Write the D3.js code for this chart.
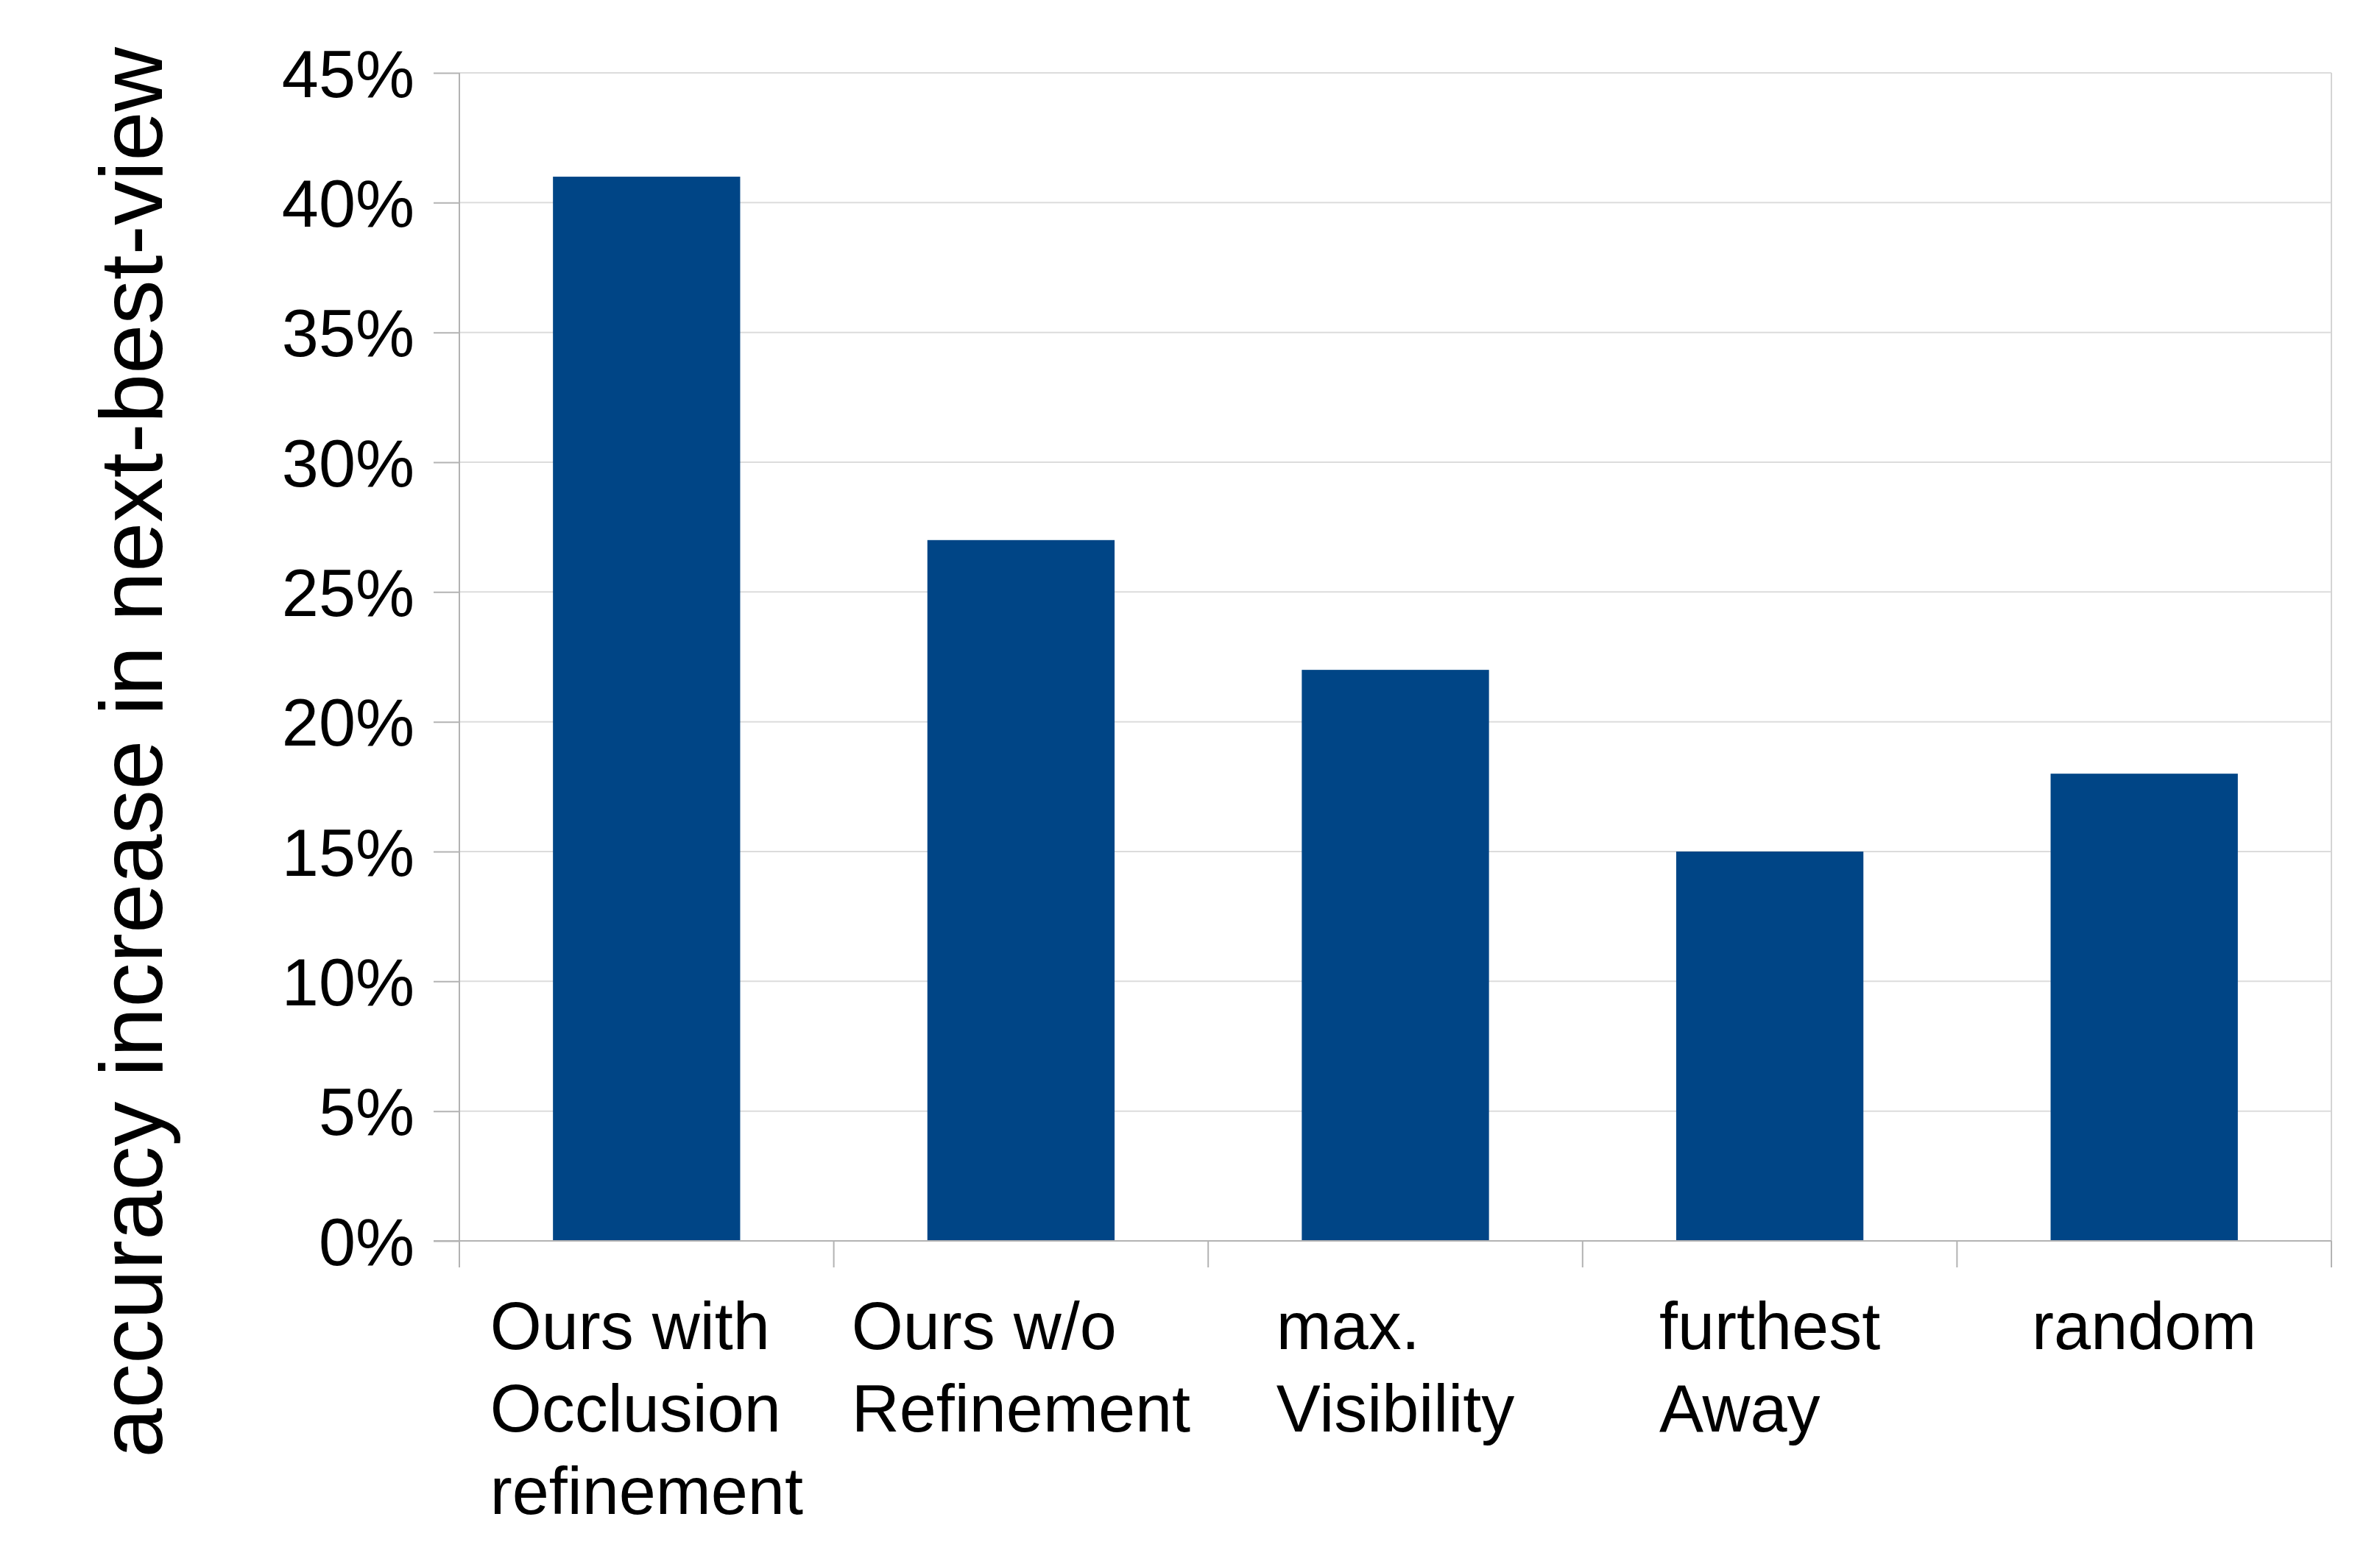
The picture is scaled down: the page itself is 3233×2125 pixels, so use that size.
<!DOCTYPE html>
<html>
<head>
<meta charset="utf-8">
<script src="https://cdn.jsdelivr.net/npm/d3@7"></script>
<style>
  html, body { margin: 0; padding: 0; background: #ffffff; }
  svg { display: block; }
  text { font-family: "Liberation Sans", Arial, sans-serif; fill: #000000; }
</style>
</head>
<body>
<svg id="chart" width="3233" height="2125"></svg>
<script>
// ---- data ----
const categories = [
  ["Ours with", "Occlusion", "refinement"],
  ["Ours w/o", "Refinement"],
  ["max.", "Visibility"],
  ["furthest", "Away"],
  ["random"]
];
const values = [41, 27, 22, 15, 18];
const yTicks = [0, 5, 10, 15, 20, 25, 30, 35, 40, 45];
const yLabel = "accuracy increase in next-best-view";

// ---- layout ----
const plotL = 624, plotR = 3167, plotT = 99, plotB = 1686;
const svg = d3.select("#chart");

const keys = categories.map((c, i) => "c" + i);
const x = d3.scaleBand().domain(keys).range([plotL, plotR]).paddingInner(0.5).paddingOuter(0.25);
const y = d3.scaleLinear().domain([0, 45]).range([plotB, plotT]);
const step = x.step();

// gridlines
svg.append("g").selectAll("line").data(yTicks.filter(t => t > 0)).join("line")
  .attr("x1", plotL).attr("x2", plotR)
  .attr("y1", d => y(d)).attr("y2", d => y(d))
  .attr("stroke", "#dcdcdc").attr("stroke-width", 2);

// right border
svg.append("line").attr("x1", plotR).attr("x2", plotR).attr("y1", plotT).attr("y2", plotB)
  .attr("stroke", "#d4d4d4").attr("stroke-width", 2);

// bars
svg.append("g").selectAll("rect").data(values).join("rect")
  .attr("x", (d, i) => x(keys[i]))
  .attr("width", x.bandwidth())
  .attr("y", d => y(d))
  .attr("height", d => y(0) - y(d))
  .attr("fill", "#004586");

// y axis
const yAxis = d3.axisLeft(y).tickValues(yTicks).tickSize(35).tickPadding(26)
  .tickFormat(d => d + "%");
const gy = svg.append("g").attr("transform", `translate(${plotL},0)`).call(yAxis);
gy.select(".domain").attr("stroke", "#b3b3b3").attr("stroke-width", 2)
  .attr("d", `M0,${plotT}V${plotB}`);
gy.selectAll(".tick line").attr("stroke", "#b3b3b3").attr("stroke-width", 2);
gy.selectAll(".tick text")
  .attr("font-size", 90)
  .attr("font-family", "Liberation Sans, Arial, sans-serif")
  .attr("fill", "#000").attr("dy", null).attr("y", 32);

// x axis baseline
svg.append("line").attr("x1", plotL - 35).attr("x2", plotR).attr("y1", plotB).attr("y2", plotB)
  .attr("stroke", "#b3b3b3").attr("stroke-width", 2);

// category ticks at band boundaries
const boundaries = keys.map(k => x(k) - step * 0.25).concat([plotR]);
svg.append("g").selectAll("line").data(boundaries).join("line")
  .attr("x1", d => d).attr("x2", d => d)
  .attr("y1", plotB).attr("y2", plotB + 36)
  .attr("stroke", "#b3b3b3").attr("stroke-width", 2);

// category labels (block centred, lines left aligned)
const lineGap = 112, firstBase = 1833;
categories.forEach((lines, i) => {
  const cx = x(keys[i]) + x.bandwidth() / 2;
  const t = svg.append("text").attr("font-size", 90).attr("text-anchor", "start");
  lines.forEach((ln, j) => {
    t.append("tspan").attr("x", 0).attr("y", firstBase + j * lineGap).text(ln);
  });
  let maxW = 0;
  t.selectAll("tspan").each(function() { maxW = Math.max(maxW, this.getComputedTextLength()); });
  t.selectAll("tspan").attr("x", cx - maxW / 2);
});

// y label
svg.append("text")
  .attr("transform", `translate(220,${(65 + 1980) / 2}) rotate(-90)`)
  .attr("text-anchor", "middle")
  .attr("font-size", 121)
  .text(yLabel);
</script>
</body>
</html>
